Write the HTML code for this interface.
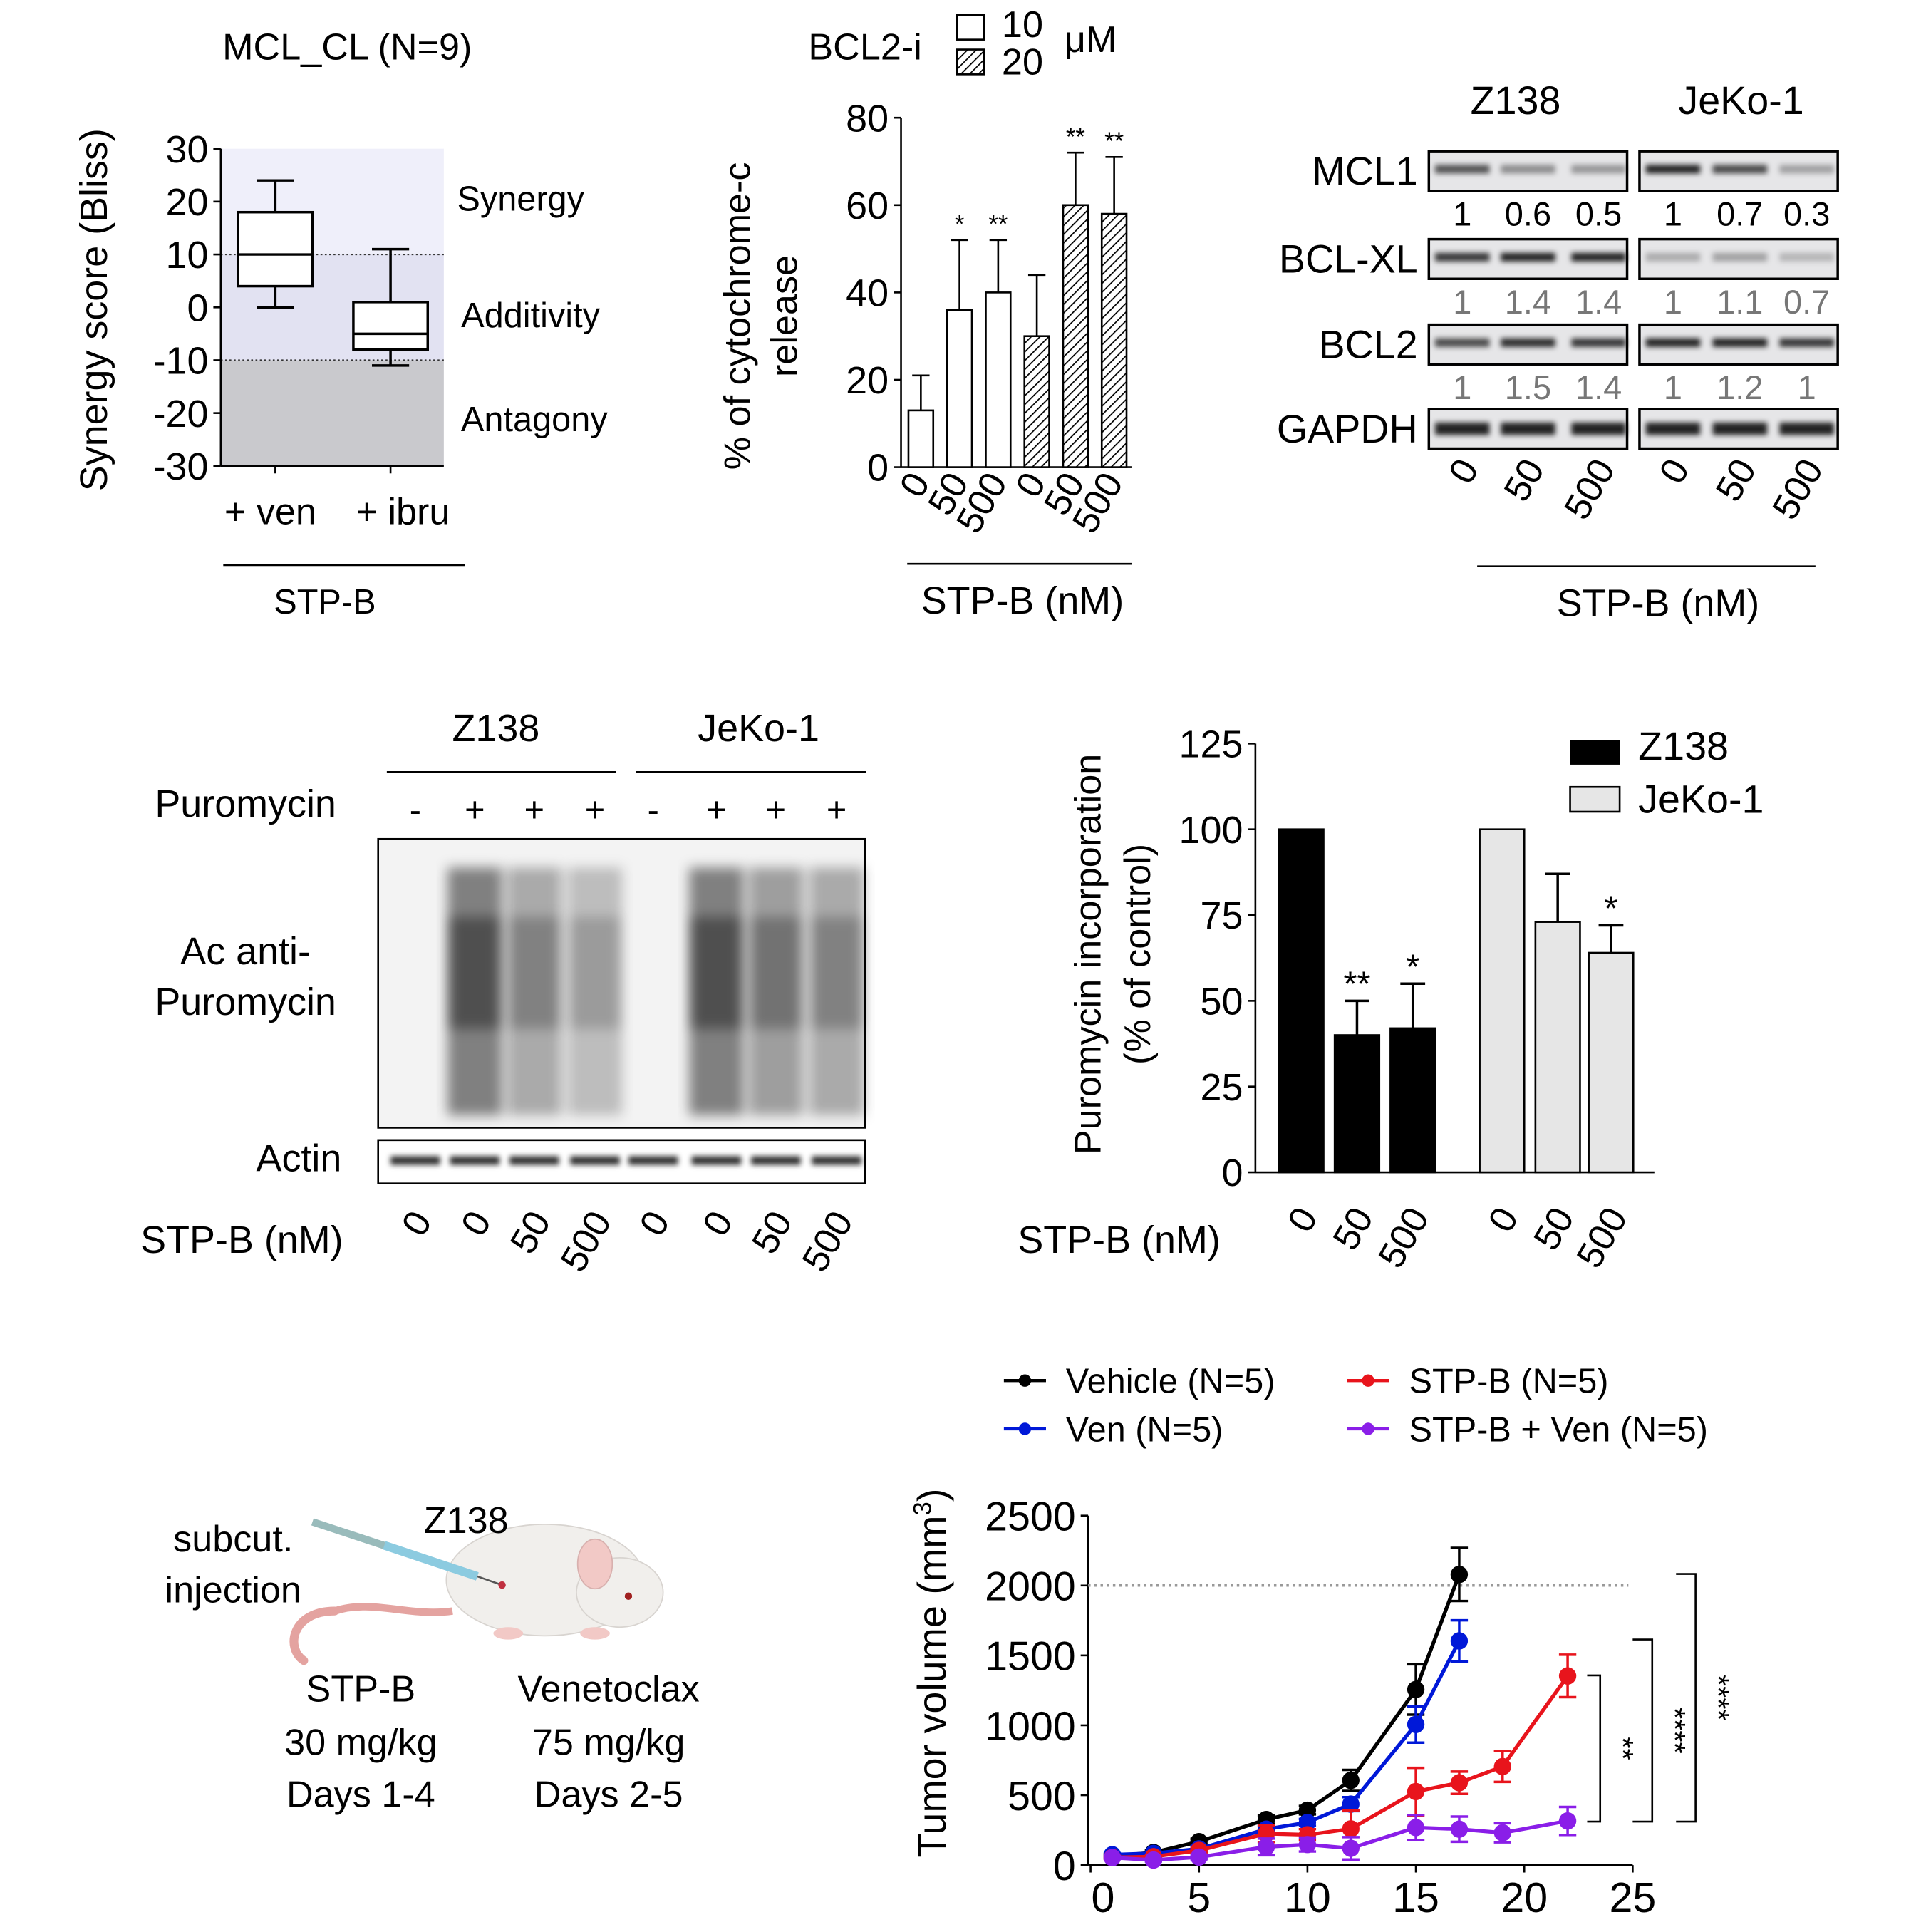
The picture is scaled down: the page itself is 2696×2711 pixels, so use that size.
<!DOCTYPE html>
<html><head><meta charset="utf-8"><style>
html,body{margin:0;padding:0;background:#fff;}
svg{display:block;font-family:"Liberation Sans",sans-serif;}
.n{font-family:"Liberation Sans Narrow","Liberation Sans",sans-serif;}
</style></head><body>
<svg id="fig" width="2696" height="2711" viewBox="0 0 1550 1559" xmlns="http://www.w3.org/2000/svg">
<defs>
<filter id="blur" x="-20%" y="-100%" width="140%" height="300%"><feGaussianBlur stdDeviation="2.2"/></filter>
<filter id="blur2" x="-20%" y="-20%" width="140%" height="140%"><feGaussianBlur stdDeviation="5"/></filter>
<pattern id="hatch" width="5" height="5" patternUnits="userSpaceOnUse" patternTransform="rotate(45)"><rect width="5" height="5" fill="#fff"/><line x1="0" y1="0" x2="0" y2="5" stroke="#000" stroke-width="2"/></pattern>
</defs>
<g id="A"></g>
<g id="B"></g>
<g id="C"></g>
<g id="D"></g>
<g id="E"></g>
<g id="F">
  <path d="M270,1300 C235,1300 230,1330 245,1340" fill="none" stroke="#e4a3a0" stroke-width="7" stroke-linecap="round"/>
  <path d="M270,1300 C300,1290 330,1305 365,1300" fill="none" stroke="#e4a3a0" stroke-width="6"/>
  <ellipse cx="440" cy="1275" rx="80" ry="45" fill="#f1efec" stroke="#d8d4d0"/>
  <ellipse cx="500" cy="1285" rx="35" ry="28" fill="#f1efec" stroke="#d8d4d0"/>
  <ellipse cx="480" cy="1262" rx="14" ry="20" fill="#f2c9c6" stroke="#d8b0ae"/>
  <circle cx="507" cy="1288" r="3" fill="#a02020"/>
  <ellipse cx="410" cy="1318" rx="12" ry="5" fill="#f2c9c6"/>
  <ellipse cx="480" cy="1318" rx="12" ry="5" fill="#f2c9c6"/>
  <line x1="252" y1="1228" x2="385" y2="1272" stroke="#9bb" stroke-width="6"/>
  <line x1="310" y1="1247" x2="385" y2="1272" stroke="#8ccbe0" stroke-width="7"/>
  <line x1="385" y1="1272" x2="405" y2="1279" stroke="#555" stroke-width="1.5"/>
  <circle cx="405" cy="1279" r="3" fill="#c03040"/>
  <text x="188" y="1252" font-size="30" text-anchor="middle">subcut.</text>
  <text x="188" y="1293" font-size="30" text-anchor="middle">injection</text>
  <text x="376" y="1237" font-size="30" text-anchor="middle">Z138</text>
  <text x="291" y="1373" font-size="30" text-anchor="middle">STP-B</text>
  <text x="291" y="1416" font-size="30" text-anchor="middle">30 mg/kg</text>
  <text x="291" y="1458" font-size="30" text-anchor="middle">Days 1-4</text>
  <text x="491" y="1373" font-size="30" text-anchor="middle">Venetoclax</text>
  <text x="491" y="1416" font-size="30" text-anchor="middle">75 mg/kg</text>
  <text x="491" y="1458" font-size="30" text-anchor="middle">Days 2-5</text>
</g>
<g id="G"></g>
</svg>
<script>
const NS='http://www.w3.org/2000/svg';
function mk(p,tag,at,txt){const e=document.createElementNS(NS,tag);for(const k in at)e.setAttribute(k,at[k]);if(txt!==undefined)e.textContent=txt;p.appendChild(e);return e;}

// ---------- Panel A data ----------
const boxGroups=['+ ven','+ ibru'];
const boxMin=[0,-11];
const boxQ1=[4,-8];
const boxMed=[10,-5];
const boxQ3=[18,1];
const boxMax=[24,11];
const aTicks=[30,20,10,0,-10,-20,-30];

// ---------- Panel B data ----------
const cytoCats=['0','50','500','0','50','500'];
const cytoVals=[13,36,40,30,60,58];
const cytoErr=[8,16,12,14,12,13];
const cytoHatch=[0,0,0,1,1,1];
const cytoStars=['','*','**','','**','**'];
const bTicks=[0,20,40,60,80];

// ---------- Panel E data ----------
const puroCats=['0','50','500','0','50','500'];
const puroVals=[100,40,42,100,73,64];
const puroErr=[0,10,13,0,14,8];
const puroLine=['Z138','Z138','Z138','JeKo-1','JeKo-1','JeKo-1'];
const puroStars=['','**','*','','','*'];
const eTicks=[0,25,50,75,100,125];

// ---------- Panel G data ----------
const gDaysA=[1,2.9,5,8.1,10,12,15,17];
const gDaysB=[1,2.9,5,8.1,10,12,15,17,19,22];
const vehVals=[63,90,168,326,393,606,1256,2079];
const vehErr=[15,15,20,30,30,75,180,190];
const venVals=[74,84,116,257,305,436,1006,1604];
const venErr=[10,10,20,25,25,50,130,147];
const stpVals=[55,60,105,225,217,259,526,589,705,1353];
const stpErr=[10,10,15,60,40,130,170,80,110,152];
const comboVals=[53,36,57,130,147,120,269,257,231,316];
const comboErr=[10,10,15,60,50,80,90,90,68,100];
const gXTicks=[0,5,10,15,20,25];
const gYTicks=[0,500,1000,1500,2000,2500];

// ===== Panel A =====
(function(){
const g=document.getElementById('A');
const y=v=>120+(30-v)*(256/60), x0=178,x1=358;
let r;
r=mk(g,'rect',{x:x0,y:y(30),width:x1-x0,height:y(10)-y(30),fill:'#efeffa'});

r=mk(g,'rect',{x:x0,y:y(10),width:x1-x0,height:y(-10)-y(10),fill:'#e2e2f2'});

r=mk(g,'rect',{x:x0,y:y(-10),width:x1-x0,height:y(-30)-y(-10),fill:'#c9c9cd'});

[10,-10].forEach(v=>{const l=mk(g,'line',{x1:x0,x2:x1,y1:y(v),y2:y(v),stroke:'#333','stroke-dasharray':'1.5 2','stroke-width':1.2});
});
const ax=mk(g,'line',{x1:x0,x2:x0,y1:y(30),y2:y(-30),stroke:'#000','stroke-width':1.5});

const xa=mk(g,'line',{x1:x0,x2:x1,y1:y(-30),y2:y(-30),stroke:'#000','stroke-width':1.5});

aTicks.forEach(v=>{const t=mk(g,'line',{x1:x0-6,x2:x0,y1:y(v),y2:y(v),stroke:'#000','stroke-width':1.5});

const l=mk(g,'text',{x:x0-10,y:y(v)+11,'font-size':31,'text-anchor':'end'},String(v));
});
const cx=[222,315];
boxGroups.forEach((nm,i)=>{const c=cx[i],w=30;
const b=mk(g,'rect',{x:c-w,y:y(boxQ3[i]),width:2*w,height:y(boxQ1[i])-y(boxQ3[i]),fill:'#fff',stroke:'#000','stroke-width':2});

const m=mk(g,'line',{x1:c-w,x2:c+w,y1:y(boxMed[i]),y2:y(boxMed[i]),stroke:'#000','stroke-width':2});

const wk=mk(g,'path',{d:`M${c},${y(boxQ3[i])}V${y(boxMax[i])}M${c-15},${y(boxMax[i])}H${c+15}M${c},${y(boxQ1[i])}V${y(boxMin[i])}M${c-15},${y(boxMin[i])}H${c+15}`,stroke:'#000','stroke-width':2,fill:'none'});

const tk=mk(g,'line',{x1:c,x2:c,y1:y(-30),y2:y(-30)+6,stroke:'#000','stroke-width':1.5});

const lb=mk(g,'text',{x:c+(i?10:-4),y:423,'font-size':30,'text-anchor':'middle'},nm);
});
const T=[['MCL_CL (N=9)',280,48,'title'],['Synergy',420,170,'synergy-label'],['Additivity',428,264,'additivity-label'],['Antagony',431,348,'antagony-label'],['STP-B',262,495,'x-axis-title']];
T.forEach(t=>{const e=mk(g,'text',{x:t[1],y:t[2],'font-size':t[0]==='MCL_CL (N=9)'?30:28,'text-anchor':'middle'},t[0]);
});
const ln=mk(g,'line',{x1:180,x2:375,y1:456,y2:456,stroke:'#000','stroke-width':1.5});

const yt=mk(g,'text',{x:0,y:0,'font-size':31,'text-anchor':'middle',transform:'translate(86,250) rotate(-90)'},'Synergy score (Bliss)');

})();

// ===== Panel B =====
(function(){
const g=document.getElementById('B');
const y=v=>377-v*3.525, x0=727;
const ax=mk(g,'line',{x1:x0,x2:x0,y1:y(80),y2:y(0),stroke:'#000','stroke-width':1.5});

const xa=mk(g,'line',{x1:x0,x2:913,y1:y(0),y2:y(0),stroke:'#000','stroke-width':1.5});

bTicks.forEach(v=>{const t=mk(g,'line',{x1:x0-6,x2:x0,y1:y(v),y2:y(v),stroke:'#000','stroke-width':1.5});

const l=mk(g,'text',{x:x0-10,y:y(v)+11,'font-size':31,'text-anchor':'end'},String(v));
});
cytoVals.forEach((v,i)=>{const c=743+i*31.2,w=20;
const e=mk(g,'path',{d:`M${c},${y(v)}V${y(v+cytoErr[i])}M${c-7},${y(v+cytoErr[i])}H${c+7}`,stroke:'#000','stroke-width':1.5,fill:'none'});

const b=mk(g,'rect',{x:c-w/2,y:y(v),width:w,height:y(0)-y(v),fill:cytoHatch[i]?'url(#hatch)':'#fff',stroke:'#000','stroke-width':1.5});

if(cytoStars[i]){const s=mk(g,'text',{x:c,y:y(v+cytoErr[i])-6,'font-size':20,'text-anchor':'middle'},cytoStars[i]);
}
const l=mk(g,'text',{x:0,y:0,'font-size':30,'text-anchor':'end',transform:`translate(${c+8},${y(0)+12}) rotate(-60)`},cytoCats[i]);
});
const ln=mk(g,'line',{x1:732,x2:913,y1:455,y2:455,stroke:'#000','stroke-width':1.5});

const xt=mk(g,'text',{x:825,y:495,'font-size':31,'text-anchor':'middle'},'STP-B (nM)');

const y1=mk(g,'text',{x:0,y:0,'font-size':30,'text-anchor':'middle',transform:'translate(605,255) rotate(-90)'},'% of cytochrome-c');

const y2=mk(g,'text',{x:0,y:0,'font-size':30,'text-anchor':'middle',transform:'translate(643,255) rotate(-90)'},'release');

const lt=mk(g,'text',{x:698,y:48,'font-size':30,'text-anchor':'middle'},'BCL2-i');

const b1=mk(g,'rect',{x:772,y:12,width:22,height:20,fill:'#fff',stroke:'#000','stroke-width':1.5});

const b2=mk(g,'rect',{x:772,y:40,width:22,height:20,fill:'url(#hatch)',stroke:'#000','stroke-width':1.5});

const t1=mk(g,'text',{x:825,y:30,'font-size':30,'text-anchor':'middle'},'10');

const t2=mk(g,'text',{x:825,y:60,'font-size':30,'text-anchor':'middle'},'20');

const t3=mk(g,'text',{x:880,y:42,'font-size':30,'text-anchor':'middle'},'μM');

})();

// ===== Panel C =====
const blotRows=['MCL1','BCL-XL','BCL2','GAPDH'];
const blotNums=[['1','0.6','0.5','1','0.7','0.3'],['1','1.4','1.4','1','1.1','0.7'],['1','1.5','1.4','1','1.2','1'],null];
const bandInt=[[0.75,0.45,0.4,1,0.8,0.35],[0.9,1,1,0.3,0.35,0.25],[0.8,0.95,0.9,1,1,0.9],[1,1,1,1,1,1]];
(function(){
const g=document.getElementById('C');
const rowY=[122,193,262,330], lanes=[1180,1233,1290,1350,1404,1458];
const h1=mk(g,'text',{x:1223,y:92,'font-size':32,'text-anchor':'middle'},'Z138');

const h2=mk(g,'text',{x:1405,y:92,'font-size':32,'text-anchor':'middle'},'JeKo-1');

blotRows.forEach((nm,r)=>{const y0=rowY[r];
const lb=mk(g,'text',{x:1144,y:y0+27,'font-size':32,'text-anchor':'end'},nm);

[[1153,160],[1323,160]].forEach((p,k)=>{
const bg=mk(g,'rect',{x:p[0],y:y0,width:p[1],height:32,fill:'#e6e6e8',stroke:'#000','stroke-width':2});

for(let j=0;j<3;j++){const li=k*3+j,I=bandInt[r][li];
const bd=mk(g,'rect',{x:lanes[li]-22,y:y0+11,width:44,height:r===3?10:7,fill:`rgba(0,0,0,${0.85*I})`,filter:'url(#blur)'});
}});
if(blotNums[r])blotNums[r].forEach((t,i)=>{const n=mk(g,'text',{x:lanes[i],y:y0+60,'font-size':27,'text-anchor':'middle',class:'n',fill:r?'#777':'#000'},t);
});});
['0','50','500','0','50','500'].forEach((t,i)=>{const l=mk(g,'text',{x:0,y:0,'font-size':30,'text-anchor':'end',transform:`translate(${lanes[i]+14},${378}) rotate(-60)`},t);
});
const ln=mk(g,'line',{x1:1192,x2:1465,y1:457,y2:457,stroke:'#000','stroke-width':1.5});

const xt=mk(g,'text',{x:1338,y:497,'font-size':31,'text-anchor':'middle'},'STP-B (nM)');

})();

// ===== Panel D =====
const puroSigns=['-','+','+','+','-','+','+','+'];
const puroLaneLabels=['0','0','50','500','0','0','50','500'];
const smearInt=[0,0.95,0.6,0.45,0,0.95,0.7,0.6];
(function(){
const g=document.getElementById('D');
const lanes=[335,383,431,480,527,578,626,675];
const bg=mk(g,'rect',{x:305,y:677,width:393,height:233,fill:'#f3f3f3',stroke:'#000','stroke-width':1.5});

lanes.forEach((c,i)=>{if(smearInt[i]>0){
const s=mk(g,'rect',{x:c-22,y:700,width:44,height:200,fill:`rgba(0,0,0,${0.5*smearInt[i]})`,filter:'url(#blur2)'});

const s2=mk(g,'rect',{x:c-20,y:740,width:40,height:90,fill:`rgba(0,0,0,${0.4*smearInt[i]})`,filter:'url(#blur2)'});
}
const sg=mk(g,'text',{x:c,y:663,'font-size':28,'text-anchor':'middle'},puroSigns[i]);

const b=mk(g,'rect',{x:c-20,y:933,width:40,height:7,fill:'rgba(0,0,0,0.8)',filter:'url(#blur)'});

const l=mk(g,'text',{x:0,y:0,'font-size':30,'text-anchor':'end',transform:`translate(${c+14},${985}) rotate(-60)`},puroLaneLabels[i]);
});
const ac=mk(g,'rect',{x:305,y:920,width:393,height:35,fill:'none',stroke:'#000','stroke-width':1.5});

const T=[['Z138',400,598,'z138-header'],['JeKo-1',612,598,'jeko1-header'],['Puromycin',198,659,'puromycin-label'],['Ac anti-',198,778,'antibody-label'],['Puromycin',198,819,'antibody-label-line2'],['Actin',241,945,'actin-label'],['STP-B (nM)',195,1011,'x-axis-title']];
T.forEach(t=>{const e=mk(g,'text',{x:t[1],y:t[2],'font-size':31,'text-anchor':'middle'},t[0]);
});
[[312,497],[513,699]].forEach(p=>{const l=mk(g,'line',{x1:p[0],x2:p[1],y1:623,y2:623,stroke:'#000','stroke-width':1.5});
});
})();

// ===== Panel E =====
(function(){
const g=document.getElementById('E');
const y=v=>946-v*2.768, x0=1013;
const ax=mk(g,'line',{x1:x0,x2:x0,y1:y(125),y2:y(0),stroke:'#000','stroke-width':1.5});

const xa=mk(g,'line',{x1:x0,x2:1335,y1:y(0),y2:y(0),stroke:'#000','stroke-width':1.5});

eTicks.forEach(v=>{const t=mk(g,'line',{x1:x0-6,x2:x0,y1:y(v),y2:y(v),stroke:'#000','stroke-width':1.5});

const l=mk(g,'text',{x:x0-10,y:y(v)+11,'font-size':31,'text-anchor':'end'},String(v));
});
const cx=[1050,1095,1140,1212,1257,1300];
puroVals.forEach((v,i)=>{const c=cx[i],w=36,z=puroLine[i]==='Z138';
if(puroErr[i]){const e=mk(g,'path',{d:`M${c},${y(v)}V${y(v+puroErr[i])}M${c-10},${y(v+puroErr[i])}H${c+10}`,stroke:'#000','stroke-width':2,fill:'none'});
}
const b=mk(g,'rect',{x:c-w/2,y:y(v),width:w,height:y(0)-y(v),fill:z?'#000':'#e6e6e6',stroke:'#000','stroke-width':1.5});

if(puroStars[i]){const s=mk(g,'text',{x:c,y:y(v+puroErr[i])-4,'font-size':28,'text-anchor':'middle'},puroStars[i]);
}
const l=mk(g,'text',{x:0,y:0,'font-size':30,'text-anchor':'end',transform:`translate(${c+14},${y(0)+36}) rotate(-60)`},puroCats[i]);
});
const l1=mk(g,'rect',{x:1267,y:597,width:40,height:20,fill:'#000'});

const l2=mk(g,'rect',{x:1267,y:635,width:40,height:20,fill:'#e6e6e6',stroke:'#000','stroke-width':1.5});

const t1=mk(g,'text',{x:1322,y:613,'font-size':32},'Z138');

const t2=mk(g,'text',{x:1322,y:656,'font-size':32},'JeKo-1');

const y1=mk(g,'text',{x:0,y:0,'font-size':30,'text-anchor':'middle',transform:'translate(888,770) rotate(-90)'},'Puromycin incorporation');

const y2=mk(g,'text',{x:0,y:0,'font-size':30,'text-anchor':'middle',transform:'translate(928,770) rotate(-90)'},'(% of control)');

const xt=mk(g,'text',{x:903,y:1011,'font-size':31,'text-anchor':'middle'},'STP-B (nM)');

})();

// ===== Panel G =====
(function(){
const g=document.getElementById('G');
const x=d=>880+d*17.5, y=v=>1505-v*0.1128;
const ax=mk(g,'line',{x1:878,x2:878,y1:y(2500),y2:y(0),stroke:'#000','stroke-width':1.5});

const xa=mk(g,'line',{x1:878,x2:x(25),y1:y(0),y2:y(0),stroke:'#000','stroke-width':1.5});

gYTicks.forEach(v=>{const t=mk(g,'line',{x1:872,x2:878,y1:y(v),y2:y(v),stroke:'#000','stroke-width':1.5});

const l=mk(g,'text',{x:868,y:y(v)+12,'font-size':33,'text-anchor':'end',class:'n'},String(v));
});
gXTicks.forEach(v=>{const t=mk(g,'line',{x1:x(v),x2:x(v),y1:y(0),y2:y(0)+6,stroke:'#000','stroke-width':1.5});

const l=mk(g,'text',{x:x(v)+(v===0?10:0),y:y(0)+38,'font-size':34,'text-anchor':'middle',class:'n'},String(v));
});
const dl=mk(g,'line',{x1:878,x2:x(24.8),y1:y(2000),y2:y(2000),stroke:'#999','stroke-width':2,'stroke-dasharray':'2 3'});

const series=[['vehicle',gDaysA,vehVals,vehErr,'#000'],['ven',gDaysA,venVals,venErr,'#0018d8'],['stpb',gDaysB,stpVals,stpErr,'#e8141c'],['stpb-ven',gDaysB,comboVals,comboErr,'#8a1ee8']];
series.forEach(s=>{const [nm,d,v,e,c]=s;
d.forEach((dd,i)=>{const eb=mk(g,'path',{d:`M${x(dd)},${y(v[i]-e[i])}V${y(v[i]+e[i])}M${x(dd)-7},${y(v[i]+e[i])}H${x(dd)+7}M${x(dd)-7},${y(v[i]-e[i])}H${x(dd)+7}`,stroke:c,'stroke-width':2,fill:'none'});
});
const pl=mk(g,'polyline',{points:d.map((dd,i)=>x(dd)+','+y(v[i])).join(' '),fill:'none',stroke:c,'stroke-width':3});

d.forEach((dd,i)=>{const p=mk(g,'circle',{cx:x(dd),cy:y(v[i]),r:7,fill:c});
});});
const br=[[22.9,23.5,1357,311,'**'],[25,25.9,1614,311,'****'],[27,27.9,2083,311,'****']];
br.forEach(b=>{const p=mk(g,'path',{d:`M${x(b[0])},${y(b[2])}H${x(b[1])}V${y(b[3])}H${x(b[0])}`,fill:'none',stroke:'#000','stroke-width':1.5});

const t=mk(g,'text',{x:0,y:0,'font-size':24,'text-anchor':'middle',transform:`translate(${x(b[1])+10},${(y(b[2])+y(b[3]))/2}) rotate(90)`},b[4]);
});
const yt=mk(g,'text',{x:0,y:0,'font-size':32,'text-anchor':'middle',transform:'translate(763,1350) rotate(-90)'},'Tumor volume (mm');

const ys=mk(yt,'tspan',{'font-size':20,dy:-12},'3');

const yc=mk(yt,'tspan',{dy:12},')');

const leg=[['Vehicle (N=5)',810,1114,'#000'],['Ven (N=5)',810,1153,'#0018d8'],['STP-B (N=5)',1087,1114,'#e8141c'],['STP-B + Ven (N=5)',1087,1153,'#8a1ee8']];
leg.forEach(L=>{const l=mk(g,'line',{x1:L[1],x2:L[1]+34,y1:L[2],y2:L[2],stroke:L[3],'stroke-width':2.5});

const c=mk(g,'circle',{cx:L[1]+17,cy:L[2],r:5,fill:L[3]});

const t=mk(g,'text',{x:L[1]+50,y:L[2]+10,'font-size':28},L[0]);
});
})();
</script>
</body></html>
